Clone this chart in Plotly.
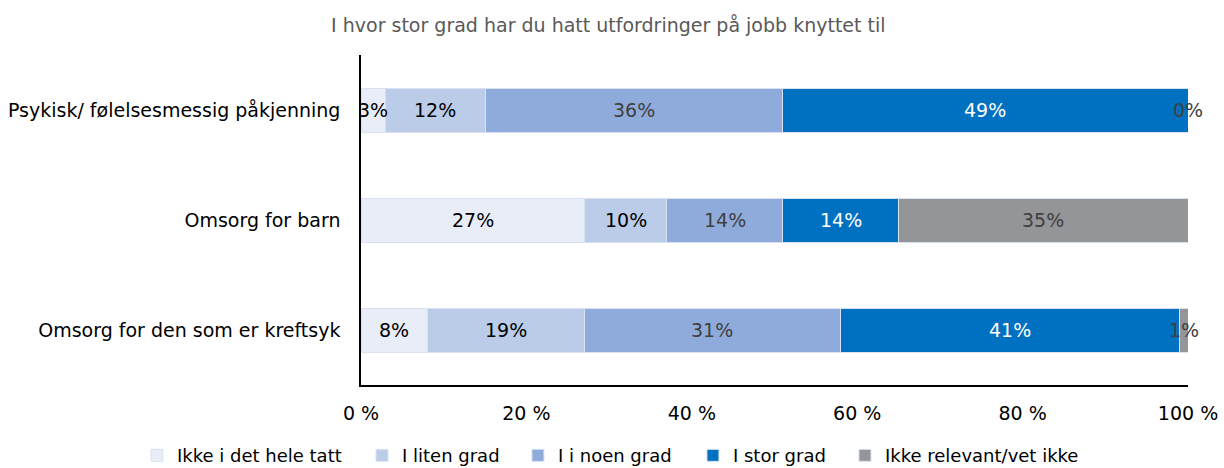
import plotly.graph_objects as go

categories = ["Psykisk/ følelsesmessig påkjenning", "Omsorg for barn", "Omsorg for den som er kreftsyk"]
series_names = ["Ikke i det hele tatt", "I liten grad", "I i noen grad", "I stor grad", "Ikke relevant/vet ikke"]
values = {
    "Ikke i det hele tatt": [3, 27, 8],
    "I liten grad": [12, 10, 19],
    "I i noen grad": [36, 14, 31],
    "I stor grad": [49, 14, 41],
    "Ikke relevant/vet ikke": [0, 35, 1],
}
colors = ["#E9EDF7", "#BBCCE9", "#8FABDB", "#0070C0", "#939598"]
label_colors = ["#000000", "#000000", "#404040", "#FFFFFF", "#404040"]
tick_vals = [0, 20, 40, 60, 80, 100]
tick_text = ["0 %", "20 %", "40 %", "60 %", "80 %", "100 %"]
title_text = "I hvor stor grad har du hatt utfordringer på jobb knyttet til"
# legend entry positions (paper x) for each series
legend_x = [-0.2709, 0.0012, 0.1898, 0.4014, 0.5852]

FONT = "DejaVu Sans, sans-serif"
fig = go.Figure()
legend_ids = ["legend"] + [f"legend{i}" for i in range(2, len(series_names) + 1)]
for name, col, lid in zip(series_names, colors, legend_ids):
    fig.add_trace(go.Bar(
        y=categories, x=values[name], name=name, orientation="h",
        marker=dict(color=col, line=dict(color="#D9E1F2", width=1)),
        hoverinfo="x+name", legend=lid, showlegend=True,
    ))

annotations = []
cum = [0] * len(categories)
for name, lc in zip(series_names, label_colors):
    for i, cat in enumerate(categories):
        v = values[name][i]
        mid = cum[i] + v / 2
        annotations.append(dict(x=mid, y=cat, xref="x", yref="y", text=f"{v}%",
                                showarrow=False, font=dict(size=19, color=lc, family=FONT)))
        cum[i] += v

legend_layout = {}
for lid, lx in zip(legend_ids, legend_x):
    legend_layout[lid] = dict(orientation="h", x=lx, xref="paper", xanchor="left", y=-0.158, yref="paper",
                              yanchor="top", font=dict(size=18, color="#000000"), itemwidth=30,
                              bgcolor="rgba(0,0,0,0)")

fig.update_layout(
    barmode="stack",
    bargap=0.6,
    showlegend=True,
    width=1224, height=468,
    margin=dict(l=361, r=36, t=55, b=83, autoexpand=False),
    paper_bgcolor="white", plot_bgcolor="white",
    font=dict(family=FONT, size=19, color="#000000"),
    title=dict(text=title_text, x=0.497, xref="container", xanchor="center", y=0.945, yanchor="middle",
               font=dict(size=19, color="#595959", family=FONT)),
    xaxis=dict(range=[0, 100], tickvals=tick_vals, ticktext=tick_text, showgrid=False, zeroline=False,
               showline=True, linecolor="#000000", linewidth=1.5, ticks="", ticklen=0, automargin=False,
               ticklabelstandoff=10, tickfont=dict(size=19, color="#000000")),
    yaxis=dict(autorange="reversed", showgrid=False, showline=True, linecolor="#000000", linewidth=1.5,
               ticks="", automargin=False, ticklabelstandoff=15, tickfont=dict(size=19, color="#000000")),
    annotations=annotations,
    **legend_layout,
)
fig.write_html("out.html", config={"displayModeBar": False},
               post_script="document.body.style.margin='0';document.body.style.overflow='hidden';")
